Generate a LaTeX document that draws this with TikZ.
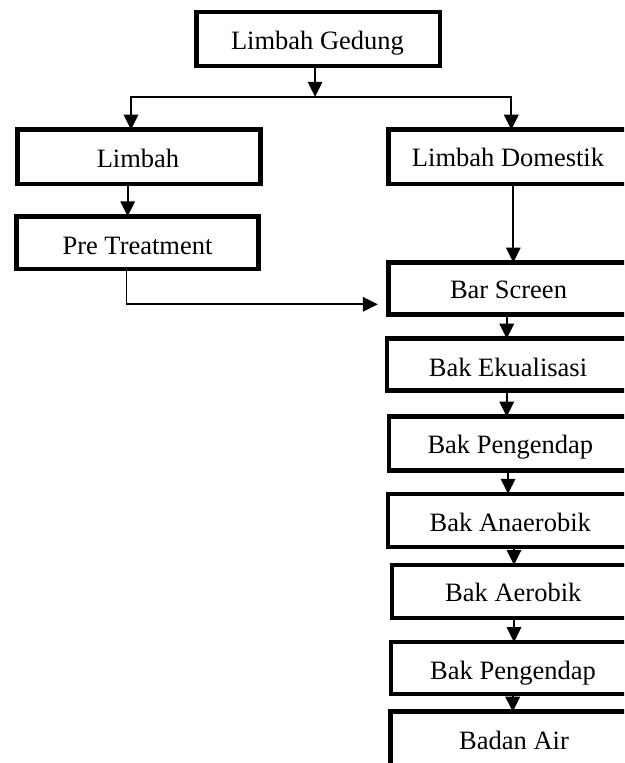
\documentclass[tikz,border=0pt]{standalone}
\usepackage{fontspec}
\setmainfont{Liberation Serif}
\usetikzlibrary{arrows.meta}
\begin{document}
\begin{tikzpicture}[x=1pt,y=-1pt,
  box/.style={draw, line width=4.5pt, rectangle, inner sep=0pt, outer sep=0pt},
  lbl/.style={anchor=base, inner sep=0pt, font=\fontsize{26.5}{30}\selectfont},
  arr/.style={line width=1.7pt, -{Triangle[length=15pt,width=14.5pt]}}]
\useasboundingbox (0,0) rectangle (624,763);
\clip (0,0) rectangle (624,763);
% boxes
\node[box, minimum width=243.5pt, minimum height=54pt] (G) at (318.25,39) {};
\node[box, minimum width=243pt, minimum height=54.1pt] (L) at (139,156.75) {};
\node[box, minimum width=241.8pt, minimum height=52.9pt] (P) at (137.4,242.75) {};
\node[box, minimum width=271.6pt, minimum height=54.1pt] (D) at (524.2,156.75) {};
\node[box, minimum width=272.6pt, minimum height=52.2pt] (B) at (524.7,288.6) {};
\node[box, minimum width=273.2pt, minimum height=51.6pt] (E) at (523.4,364.5) {};
\node[box, minimum width=271.2pt, minimum height=53.6pt] (P1) at (524.4,443.5) {};
\node[box, minimum width=272pt, minimum height=53.4pt] (A) at (524,520.5) {};
\node[box, minimum width=268pt, minimum height=53pt] (Ae) at (526,591.5) {};
\node[box, minimum width=269pt, minimum height=51.6pt] (P2) at (525.5,668) {};
\node[box, minimum width=269.5pt, minimum height=88.3pt] (W) at (525.25,755.85) {};
% texts
\node[lbl] (tG) at (317.5,49.3) {Limbah Gedung};
\node[lbl] (tL) at (138,167.3) {Limbah};
\node[lbl] (tP) at (137.5,254) {Pre Treatment};
\node[lbl] (tD) at (508,166.7) {Limbah Domestik};
\node[lbl] (tB) at (508.5,298.3) {Bar Screen};
\node[lbl] (tE) at (508,376) {Bak Ekualisasi};
\node[lbl] (tP1) at (510.3,453.3) {Bak Pengendap};
\node[lbl] (tA) at (510.3,531) {Bak Anaerobik};
\node[lbl] (tAe) at (513.3,601.7) {Bak Aerobik};
\node[lbl] (tP2) at (513,679.5) {Bak Pengendap};
\node[lbl] (tW) at (514,749.3) {Badan Air};
% helper coordinates
\coordinate (split) at (315,96.8);
\coordinate (xL) at (131,0);
\coordinate (xD) at (511.3,0);
\coordinate (xP) at (127.7,0);
\coordinate (xPre) at (126.5,0);
\coordinate (yPB) at (0,304.3);
\coordinate (xDB) at (513.3,0);
\coordinate (xa) at (506.7,0);
\coordinate (xb) at (508,0);
\coordinate (xc) at (514,0);
\coordinate (xd) at (512.7,0);
% connectors
\draw[arr] (G.south -| split) -- (split);
\draw[arr] (split) -| (L.north -| xL);
\draw[arr] (split) -| (D.north -| xD);
\draw[arr] (L.south -| xP) -- (P.north -| xP);
\draw[arr, shorten >=10.5pt] (P.south -| xPre) |- (B.west |- yPB);
\draw[arr] (D.south -| xDB) -- (B.north -| xDB);
\draw[arr] (B.south -| xa) -- (E.north -| xa);
\draw[arr] (E.south -| xa) -- (P1.north -| xa);
\draw[arr] (P1.south -| xb) -- (A.north -| xb);
\draw[arr] (A.south -| xc) -- (Ae.north -| xc);
\draw[arr] (Ae.south -| xc) -- (P2.north -| xc);
\draw[arr] (P2.south -| xd) -- (W.north -| xd);
\end{tikzpicture}
\end{document}
